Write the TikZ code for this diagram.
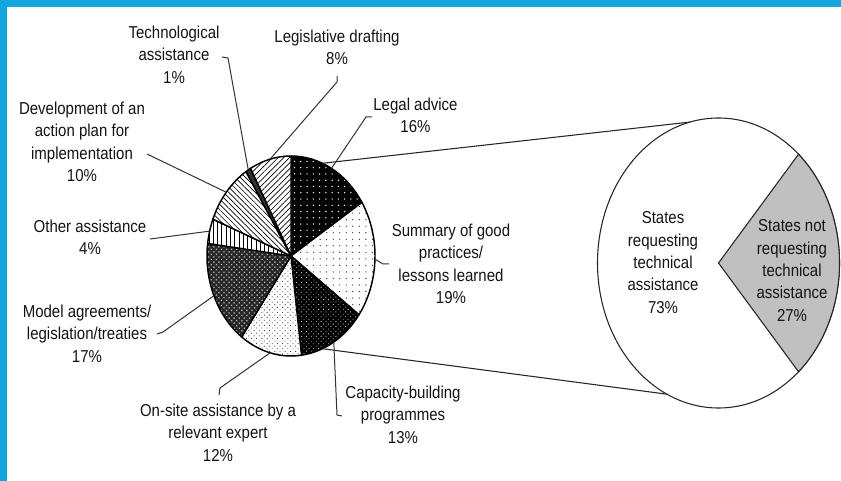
\documentclass[tikz,border=0pt]{standalone}
\usepackage{fontspec}
\setmainfont{Liberation Sans}
\usetikzlibrary{patterns.meta,calc}
\definecolor{frameblue}{RGB}{18,166,218}
\definecolor{silvergray}{RGB}{192,192,192}
\begin{document}
\begin{tikzpicture}[x=0.75pt,y=0.75pt,
  lbl/.style={font=\fontsize{11.25pt}{14.67pt}\selectfont, align=center, inner sep=0pt, yscale=1.15, text=black!92},
  leader/.style={draw=black!80, line width=0.75pt},
  slice/.style={draw=black, line width=1.1pt, line join=round},
  zoomline/.style={draw=black!85, line width=0.8pt},
  pr/.style={x radius=63pt, y radius=75pt},
  br/.style={x radius=90.75pt, y radius=108.75pt},
]
\useasboundingbox (0,0) rectangle (841,481);
\fill[white] (0,0) rectangle (841,481);
\fill[frameblue] (0,474) rectangle (841,481);
\fill[frameblue] (0,0) rectangle (7,481);

\coordinate (P) at (291,225);

% Legal advice 16%
\path[slice, preaction={fill=black}, pattern={Dots[distance=4.7pt,radius=0.55pt]}, pattern color=white]
  (P) -- ++(90:63pt and 75pt) arc[start angle=90,end angle=32.4,pr] -- cycle;
% Summary 19%
\path[slice, preaction={fill=white}, pattern={Dots[distance=4.9pt,radius=0.5pt]}, pattern color=black!80]
  (P) -- ++(32.4:63pt and 75pt) arc[start angle=32.4,end angle=-36,pr] -- cycle;
% Capacity-building 13%
\path[slice, preaction={fill=black}, pattern={Dots[distance=2.6pt,angle=45,radius=0.45pt]}, pattern color=white!80!black]
  (P) -- ++(-36:63pt and 75pt) arc[start angle=-36,end angle=-82.8,pr] -- cycle;
% On-site 12%
\path[slice, preaction={fill=white}, pattern={Dots[distance=2.75pt,angle=45,radius=0.5pt]}, pattern color=black!70]
  (P) -- ++(-82.8:63pt and 75pt) arc[start angle=-82.8,end angle=-126,pr] -- cycle;
% Model agreements 17%
\path[slice, preaction={fill=black!85}, preaction={pattern={Dots[distance=2.7pt,angle=45,radius=0.75pt]}, pattern color=black!45}, pattern={Dots[distance=2.7pt,angle=45,radius=0.3pt]}, pattern color=white]
  (P) -- ++(-126:63pt and 75pt) arc[start angle=-126,end angle=-187.2,pr] -- cycle;
% Other assistance 4%
\path[slice, preaction={fill=white}, pattern={Lines[angle=90,distance=3.2pt,line width=0.6pt]}, pattern color=black]
  (P) -- ++(-187.2:63pt and 75pt) arc[start angle=-187.2,end angle=-201.6,pr] -- cycle;
% Development 10%
\path[slice, preaction={fill=white}, pattern={Lines[angle=-45,distance=2.8pt,line width=0.5pt]}, pattern color=black]
  (P) -- ++(-201.6:63pt and 75pt) arc[start angle=-201.6,end angle=-237.6,pr] -- cycle;
% Technological 1%
\path[slice, fill=black!80]
  (P) -- ++(-237.6:63pt and 75pt) arc[start angle=-237.6,end angle=-241.2,pr] -- cycle;
% Legislative drafting 8%
\path[slice, preaction={fill=white}, pattern={Lines[angle=45,distance=3pt,line width=0.5pt]}, pattern color=black]
  (P) -- ++(-241.2:63pt and 75pt) arc[start angle=-241.2,end angle=-270,pr] -- cycle;

% pie edge points
\coordinate (eTech)  at ($(P)+(120.6:63pt and 75pt)$);
\coordinate (eLeg)   at ($(P)+(104.4:63pt and 75pt)$);
\coordinate (eLegal) at ($(P)+(61.2:63pt and 75pt)$);
\coordinate (eSum)   at ($(P)+(-1.8:63pt and 75pt)$);
\coordinate (eCap)   at ($(P)+(-59.4:63pt and 75pt)$);
\coordinate (eOn)    at ($(P)+(-104.4:63pt and 75pt)$);
\coordinate (eMod)   at ($(P)+(-156.6:63pt and 75pt)$);
\coordinate (eOth)   at ($(P)+(165.6:63pt and 75pt)$);
\coordinate (eDev)   at ($(P)+(140.4:63pt and 75pt)$);
\coordinate (eTop)   at ($(P)+(68:63pt and 75pt)$);
\coordinate (eBot)   at ($(P)+(-68:63pt and 75pt)$);

% big pie
\coordinate (B) at (718.5,218);
\draw[zoomline, fill=white] (B) ellipse[br];
\draw[zoomline, fill=silvergray] (B) -- ++(48.6:90.75pt and 108.75pt) arc[start angle=48.6,end angle=-48.6,br] -- cycle;
\coordinate (bTop) at ($(B)+(103.6:90.75pt and 108.75pt)$);
\coordinate (bBot) at ($(B)+(-115.2:90.75pt and 108.75pt)$);
\draw[zoomline] (eTop) -- (bTop);
\draw[zoomline] (eBot) -- (bBot);

% labels
\node[lbl] (tech) at (174,424.5) {\strut Technological\\\strut assistance\\\strut 1\%};
\node[lbl] (legis) at (337,431.75) {\strut Legislative drafting\\\strut 8\%};
\node[lbl] (legal) at (415.5,363.75) {\strut Legal advice\\\strut 16\%};
\node[lbl] (dev) at (82,337.25) {\strut Development of an\\\strut action plan for\\\strut implementation\\\strut 10\%};
\node[lbl] (summ) at (451,215.25) {\strut Summary of good\\\strut practices/\\\strut lessons learned\\\strut 19\%};
\node[lbl] (other) at (90,241.75) {\strut Other assistance\\\strut 4\%};
\node[lbl] (model) at (87,145.5) {\strut Model agreements/\\\strut legislation/treaties\\\strut 17\%};
\node[lbl] (onsite) at (218,46.5) {\strut On-site assistance by a\\\strut relevant expert\\\strut 12\%};
\node[lbl] (cap) at (403,64.5) {\strut Capacity-building\\\strut programmes\\\strut 13\%};
\node[lbl] (sreq) at (663,217) {\strut States\\\strut requesting\\\strut technical\\\strut assistance\\\strut 73\%};
\node[lbl] (snot) at (792,209) {\strut States not\\\strut requesting\\\strut technical\\\strut assistance\\\strut 27\%};

% leader tick points
\coordinate (tA) at (222,424); \coordinate (tB) at (228,423);
\coordinate (lA) at (337,405); \coordinate (lB) at (337,399);
\coordinate (gA) at (372,364); \coordinate (gB) at (366,364);
\coordinate (sA) at (389,217); \coordinate (sB) at (383,217);
\coordinate (cA) at (342,65);  \coordinate (cB) at (337,66);
\coordinate (oA) at (219,86);  \coordinate (oB) at (220,93);
\coordinate (mA) at (157,147); \coordinate (mB) at (163,149);
\coordinate (xA) at (150,242);
\coordinate (dA) at (147,327);

\draw[leader] (tA) -- (tB) -- (eTech);
\draw[leader] (lA) -- (lB) -- (eLeg);
\draw[leader] (gA) -- (gB) -- (eLegal);
\draw[leader] (sA) -- (sB) -- (eSum);
\draw[leader] (cA) -- (cB) -- (eCap);
\draw[leader] (oA) -- (oB) -- (eOn);
\draw[leader] (mA) -- (mB) -- (eMod);
\draw[leader] (xA) -- (eOth);
\draw[leader] (dA) -- (eDev);
\end{tikzpicture}
\end{document}
